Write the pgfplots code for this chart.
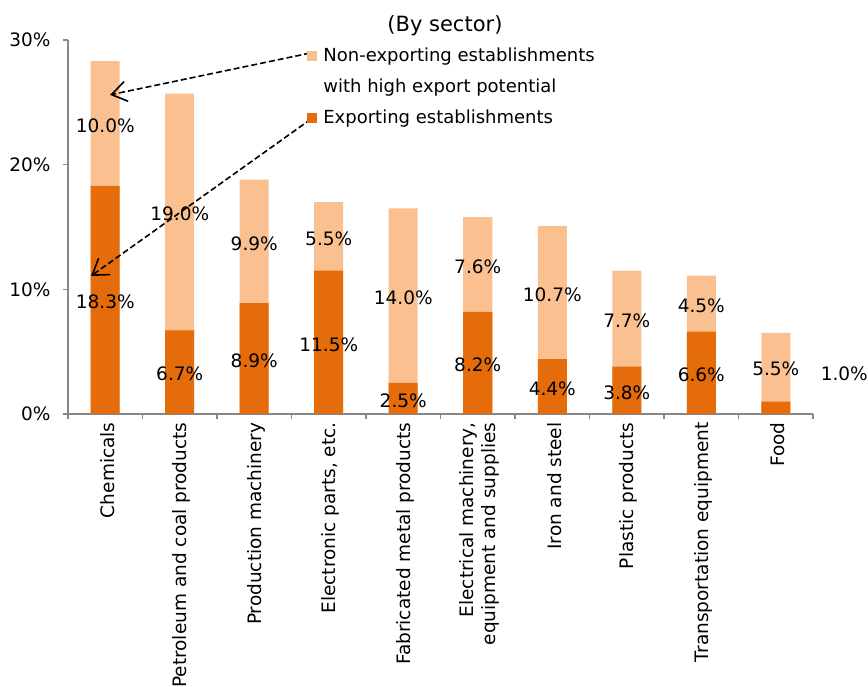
\documentclass[border=0pt]{standalone}
\usepackage{fontspec}
\setmainfont{DejaVu Sans}
\usepackage{pgfplots}
\usepackage{pgfplotstable}
\pgfplotsset{compat=1.18}
\usetikzlibrary{arrows.meta,calc}

\definecolor{expcol}{RGB}{228,108,10}
\definecolor{potcol}{RGB}{250,192,144}
\definecolor{axgray}{RGB}{134,134,134}

\newcommand{\chfont}{\fontsize{18.5}{22}\selectfont}
\newcommand{\legfont}{\fontsize{18}{21}\selectfont}

% share of establishments (%), exporting / non-exporting with high potential
\pgfplotstableread{
x exp pot
0 18.3 10.0
1 6.7 19.0
2 8.9 9.9
3 11.5 5.5
4 2.5 14.0
5 8.2 7.6
6 4.4 10.7
7 3.8 7.7
8 6.6 4.5
9 1.0 5.5
}\sectors

\pgfplotsset{
  sq legend/.style={legend image code/.code={\fill[##1] (0pt,-5pt) rectangle (10pt,5pt);}},
  pct label/.style={only marks, mark=*, mark size=0pt, mark options={draw=none,fill=none},
    forget plot, point meta=explicit,
    nodes near coords={\pgfmathprintnumber[fixed,fixed zerofill,precision=1]{\pgfplotspointmeta}\%},
    every node near coord/.style={anchor=center, yshift=-2pt, font=\chfont, text=black}},
}

\begin{document}
\begin{tikzpicture}
\begin{axis}[
  name=ax, at={(0,0)}, anchor=south west,
  width=745pt, height=374pt, scale only axis,
  xmin=-0.5, xmax=9.5, ymin=0, ymax=30,
  axis lines*=left,
  axis line style={axgray, line width=1.2pt},
  every tick/.style={axgray, line width=1.2pt},
  tick align=outside, major tick length=5pt,
  ytick={0,10,20,30}, yticklabels={0\%,10\%,20\%,30\%},
  yticklabel style={xshift=-9pt},
  xtick={-0.5,0.5,...,9.5},
  x tick label as interval,
  xticklabels={Chemicals,Petroleum and coal products,Production machinery,{Electronic parts, etc.},
    Fabricated metal products,{Electrical machinery,\\equipment and supplies},Iron and steel,
    Plastic products,Transportation equipment,Food},
  xticklabel style={rotate=90, anchor=east, align=right, yshift=-2pt},
  ticklabel style={font=\chfont, text=black},
  /pgf/number format/assume math mode=true,
  clip=false,
  title={(By sector)},
  title style={font=\fontsize{21}{25}\selectfont, at={(0.506,1)}, anchor=south, yshift=-5pt},
  legend style={draw=none, fill=none, at={(0.317,0.99)}, anchor=north west,
    font=\legfont, row sep=12pt, legend cell align=left,
    /tikz/every odd column/.append style={column sep=4pt}},
]
\addplot[ybar, bar width=29pt, bar shift=0pt, fill=potcol, draw=none, sq legend]
  table[x=x, y expr=\thisrow{exp}+\thisrow{pot}] {\sectors};
\addlegendentry{Non-exporting establishments}
\addlegendimage{empty legend}
\addlegendentry{with high export potential}
\addplot[ybar, bar width=29pt, bar shift=0pt, fill=expcol, draw=none, sq legend]
  table[x=x, y=exp] {\sectors};
\addlegendentry{Exporting establishments}

\addplot[pct label] table[x=x, y expr=\thisrow{exp}+0.5*\thisrow{pot}, meta=pot] {\sectors};
\addplot[pct label] table[x expr={\thisrow{x}==9 ? 9.92 : \thisrow{x}},
  y expr={\thisrow{x}==9 ? 3.35 : 0.5*\thisrow{exp}}, meta=exp] {\sectors};

\draw[black, line width=1.6pt, dash pattern=on 6pt off 3pt,
  -{Straight Barb[length=15pt,width=20pt]}] (axis cs:2.748,28.95) -- (axis cs:0.064,25.6);
\draw[black, line width=1.6pt, dash pattern=on 6pt off 3pt,
  -{Straight Barb[length=15pt,width=20pt]}] (axis cs:2.762,23.66) -- (axis cs:-0.191,11.07);
\end{axis}
\pgfresetboundingbox
\useasboundingbox (-68pt,-273pt) rectangle (800pt,414pt);
\end{tikzpicture}
\end{document}
